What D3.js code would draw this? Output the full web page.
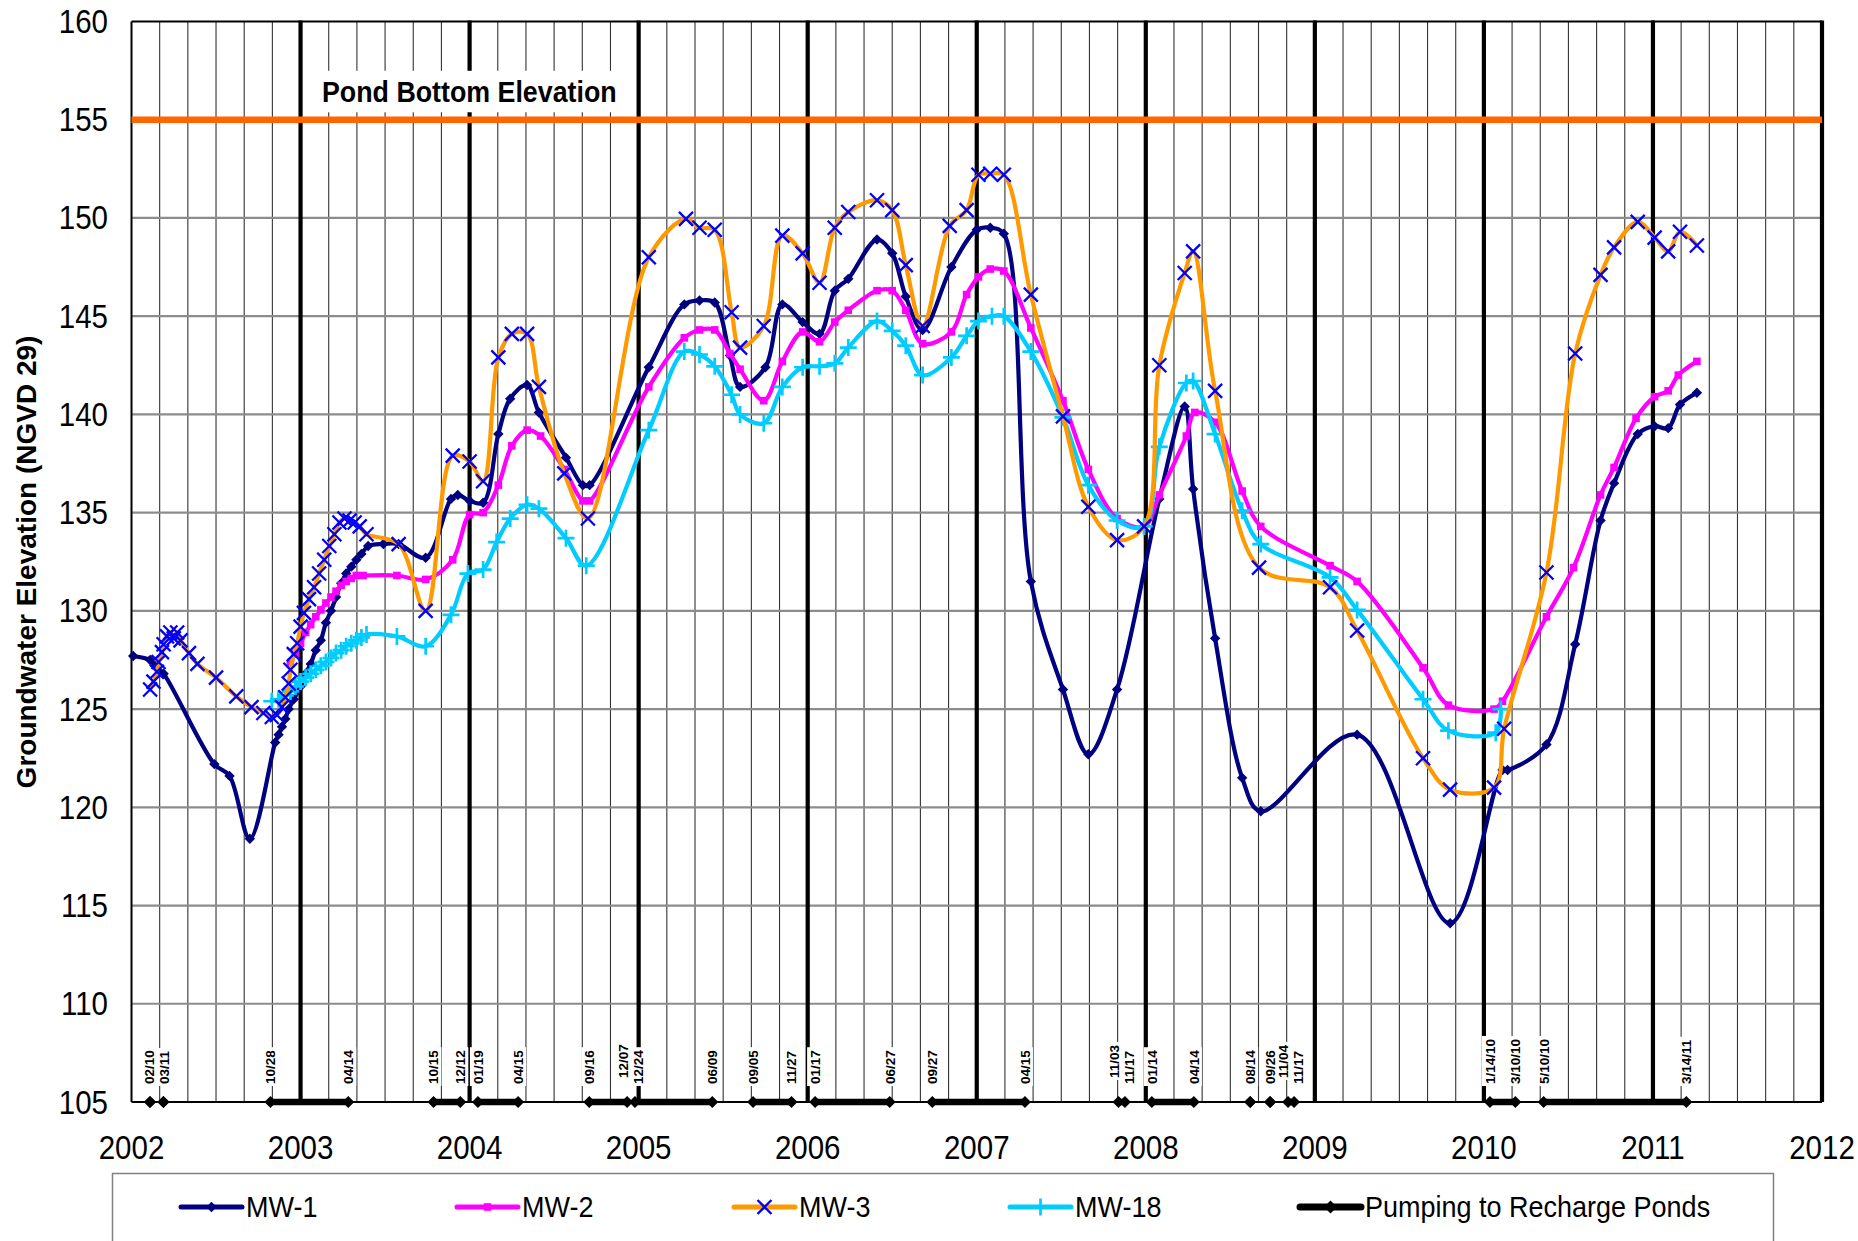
<!DOCTYPE html>
<html>
<head>
<meta charset="utf-8">
<script src="https://cdn.jsdelivr.net/npm/d3@7"></script>
<style>
  body { margin: 0; background: #fff; }
  svg { display: block; font-family: "Liberation Sans", Arial, sans-serif; }
</style>
</head>
<body>
<div id="chart"></div>
<script>
// ---- data (decimal year, elevation ft NGVD 29) ----
const yearTicks = [2002, 2003, 2004, 2005, 2006, 2007, 2008, 2009, 2010, 2011, 2012];
const elevTicks = [105, 110, 115, 120, 125, 130, 135, 140, 145, 150, 155, 160];
const pondBottom = 155;

const mw1 = [[2002.01,127.7],[2002.11,127.5],[2002.14,127.2],[2002.19,126.8],[2002.49,122.2],[2002.58,121.6],[2002.70,118.4],
  [2002.85,123.3],[2002.87,123.7],[2002.89,124.1],[2002.91,124.5],[2002.93,125.0],[2002.96,125.5],[2003.00,126.15],[2003.03,126.8],
  [2003.06,127.3],[2003.09,128.0],[2003.12,128.5],[2003.15,129.4],[2003.18,130.0],[2003.21,130.7],[2003.24,131.4],[2003.27,131.9],
  [2003.30,132.25],[2003.33,132.6],[2003.36,132.9],[2003.40,133.3],[2003.49,133.4],[2003.58,133.4],[2003.74,132.7],[2003.89,135.7],
  [2003.93,135.9],[2004.00,135.6],[2004.08,135.5],[2004.17,139.0],[2004.24,140.8],[2004.34,141.5],[2004.41,140.1],[2004.57,137.8],
  [2004.67,136.4],[2004.71,136.4],[2005.06,142.4],[2005.27,145.6],[2005.36,145.8],[2005.45,145.7],[2005.54,143.0],[2005.60,141.4],
  [2005.75,142.4],[2005.85,145.6],[2005.97,144.7],[2006.07,144.1],[2006.16,146.3],[2006.24,146.9],[2006.41,148.9],[2006.50,148.2],
  [2006.58,146.0],[2006.68,144.3],[2006.85,147.5],[2007.00,149.4],[2007.08,149.5],[2007.16,149.2],[2007.32,131.5],[2007.51,126.0],
  [2007.66,122.7],[2007.83,126.0],[2008.08,135.7],[2008.23,140.4],[2008.28,136.2],[2008.41,128.6],[2008.57,121.5],[2008.68,119.8],
  [2009.25,123.7],[2009.80,114.1],[2010.11,121.9],[2010.14,121.9],[2010.37,123.2],[2010.54,128.3],[2010.69,134.6],[2010.77,136.5],
  [2010.91,139.0],[2011.01,139.4],[2011.09,139.3],[2011.16,140.5],[2011.26,141.1]];

const mw2 = [[2002.94,127.3],[2002.97,127.85],[2003.00,128.35],[2003.03,128.9],[2003.06,129.3],[2003.09,129.7],[2003.12,130.05],
  [2003.15,130.4],[2003.18,130.7],[2003.21,131.0],[2003.24,131.3],[2003.27,131.5],[2003.30,131.65],[2003.33,131.8],[2003.37,131.8],
  [2003.57,131.8],[2003.74,131.6],[2003.90,132.6],[2004.00,134.9],[2004.08,135.0],[2004.17,136.4],[2004.25,138.4],[2004.34,139.2],
  [2004.42,138.9],[2004.56,137.2],[2004.67,135.6],[2004.71,135.6],[2005.06,141.4],[2005.27,143.9],[2005.36,144.3],[2005.45,144.3],
  [2005.54,143.1],[2005.60,142.3],[2005.74,140.7],[2005.85,142.7],[2005.97,144.2],[2006.07,143.7],[2006.16,144.7],[2006.24,145.3],
  [2006.41,146.3],[2006.50,146.3],[2006.58,145.3],[2006.68,143.6],[2006.85,144.2],[2006.94,146.1],[2007.01,147.0],[2007.08,147.4],
  [2007.16,147.3],[2007.32,144.4],[2007.51,140.7],[2007.66,137.2],[2007.83,134.7],[2007.99,134.3],[2008.08,135.9],[2008.24,138.9],
  [2008.29,140.1],[2008.41,139.6],[2008.57,136.1],[2008.68,134.3],[2009.09,132.3],[2009.25,131.5],[2009.64,127.1],[2009.79,125.2],
  [2010.06,125.0],[2010.11,125.4],[2010.37,129.7],[2010.53,132.2],[2010.69,135.9],[2010.77,137.3],[2010.90,139.8],[2011.01,140.9],
  [2011.09,141.2],[2011.15,142.0],[2011.26,142.7]];

const mw3 = [[2002.11,126.0],[2002.13,126.4],[2002.15,126.9],[2002.16,127.4],[2002.18,127.9],[2002.19,128.3],[2002.21,128.7],
  [2002.23,128.9],[2002.25,128.6],[2002.27,128.9],[2002.29,128.5],[2002.34,127.85],[2002.39,127.3],[2002.50,126.6],[2002.62,125.65],
  [2002.71,125.1],[2002.78,124.8],[2002.83,124.6],[2002.86,124.7],[2002.89,125.1],[2002.91,125.6],[2002.93,126.3],[2002.94,127.0],
  [2002.96,127.8],[2002.98,128.35],[2003.00,129.2],[2003.02,129.9],[2003.05,130.6],[2003.08,131.2],[2003.11,131.9],[2003.14,132.6],
  [2003.17,133.3],[2003.20,133.9],[2003.23,134.5],[2003.26,134.7],[2003.29,134.6],[2003.32,134.5],[2003.35,134.3],[2003.39,133.9],
  [2003.58,133.4],[2003.74,130.0],[2003.90,137.9],[2004.00,137.6],[2004.08,136.6],[2004.17,142.9],[2004.25,144.1],[2004.34,144.1],
  [2004.41,141.4],[2004.56,137.0],[2004.70,134.7],[2005.06,148.0],[2005.28,149.95],[2005.36,149.5],[2005.45,149.4],[2005.55,145.2],
  [2005.60,143.4],[2005.74,144.5],[2005.85,149.1],[2005.97,148.2],[2006.07,146.7],[2006.16,149.5],[2006.24,150.3],[2006.41,150.9],
  [2006.50,150.4],[2006.58,147.6],[2006.68,144.5],[2006.84,149.6],[2006.94,150.4],[2007.01,152.2],[2007.08,152.25],[2007.16,152.2],
  [2007.32,146.1],[2007.51,139.9],[2007.66,135.3],[2007.83,133.6],[2007.99,134.3],[2008.08,142.5],[2008.23,147.2],[2008.28,148.3],
  [2008.41,141.2],[2008.67,132.2],[2009.09,131.2],[2009.25,129.0],[2009.64,122.5],[2009.80,120.9],[2010.06,121.0],[2010.12,124.0],
  [2010.37,131.95],[2010.54,143.1],[2010.69,147.1],[2010.77,148.5],[2010.91,149.8],[2011.01,149.0],[2011.09,148.3],[2011.16,149.3],
  [2011.26,148.6]];

const mw18 = [[2002.83,125.4],[2002.87,125.5],[2002.91,125.7],[2002.94,125.9],[2002.97,126.15],[2003.00,126.4],[2003.03,126.6],
  [2003.06,126.8],[2003.09,127.0],[2003.12,127.2],[2003.15,127.4],[2003.18,127.6],[2003.21,127.85],[2003.24,128.0],[2003.27,128.2],
  [2003.30,128.35],[2003.33,128.5],[2003.36,128.65],[2003.39,128.8],[2003.57,128.7],[2003.74,128.2],[2003.89,129.8],[2003.99,131.9],
  [2004.08,132.1],[2004.16,133.5],[2004.24,134.7],[2004.34,135.4],[2004.41,135.2],[2004.57,133.7],[2004.69,132.3],[2005.06,139.2],
  [2005.27,143.2],[2005.36,143.05],[2005.45,142.45],[2005.55,141.0],[2005.60,140.0],[2005.74,139.55],[2005.85,141.4],[2005.97,142.4],
  [2006.07,142.45],[2006.16,142.6],[2006.24,143.4],[2006.41,144.75],[2006.50,144.25],[2006.58,143.5],[2006.68,142.0],[2006.85,142.9],
  [2006.94,144.0],[2007.01,144.75],[2007.09,145.0],[2007.16,145.0],[2007.32,143.2],[2007.51,139.85],[2007.66,136.4],[2007.83,134.6],
  [2007.99,134.3],[2008.08,138.35],[2008.24,141.6],[2008.28,141.7],[2008.41,139.0],[2008.57,135.1],[2008.68,133.4],[2009.09,131.7],
  [2009.25,130.05],[2009.64,125.5],[2009.79,123.9],[2010.07,123.8],[2010.10,125.0]];

// pumping to recharge ponds: [start, end]
const pumpPeriods = [["2002-02-10","2002-02-10"],["2002-03-11","2002-03-11"],["2002-10-28","2003-04-14"],["2003-10-15","2003-12-12"],
  ["2004-01-19","2004-04-15"],["2004-09-16","2004-12-07"],["2004-12-24","2005-06-09"],["2005-09-05","2005-11-27"],
  ["2006-01-17","2006-06-27"],["2006-09-27","2007-04-15"],["2007-11-03","2007-11-17"],["2008-01-14","2008-04-14"],
  ["2008-08-14","2008-08-14"],["2008-09-26","2008-09-26"],["2008-11-04","2008-11-17"],["2010-01-14","2010-03-10"],
  ["2010-05-10","2011-03-14"]];
const pumpLabelDates = ["2002-02-10","2002-03-11","2002-10-28","2003-04-14","2003-10-15","2003-12-12","2004-01-19","2004-04-15",
  "2004-09-16","2004-12-07","2004-12-24","2005-06-09","2005-09-05","2005-11-27","2006-01-17","2006-06-27","2006-09-27","2007-04-15",
  "2007-11-03","2007-11-17","2008-01-14","2008-04-14","2008-08-14","2008-09-26","2008-11-04","2008-11-17","2010-01-14","2010-03-10",
  "2010-05-10","2011-03-14"];
const pumpLabelTexts = ["02/10","03/11","10/28","04/14","10/15","12/12","01/19","04/15","09/16","12/07","12/24","06/09","09/05",
  "11/27","01/17","06/27","09/27","04/15","11/03","11/17","01/14","04/14","08/14","09/26","11/04","11/17","1/14/10","3/10/10",
  "5/10/10","3/14/11"];

// ---- chart ----
const W = 1858, H = 1241;
const plot = {left: 131.5, right: 1822, top: 21.5, bottom: 1102};

const x = d3.scaleLinear().domain([2002, 2012]).range([plot.left, plot.right]);
const y = d3.scaleLinear().domain([105, 160]).range([plot.bottom, plot.top]);

function decYear(s) {
  const d = new Date(s + "T00:00:00Z");
  const yr = d.getUTCFullYear();
  const a = Date.UTC(yr, 0, 1), b = Date.UTC(yr + 1, 0, 1);
  return yr + (d - a) / (b - a);
}

const svg = d3.select("#chart").append("svg")
  .attr("width", W).attr("height", H)
  .attr("viewBox", [0, 0, W, H]);

// text in the original is a little taller than it is wide
function tallText(g, px, py, str, size, sy, anchor) {
  return g.append("text")
    .attr("transform", `translate(${px},${py}) scale(1,${sy})`)
    .attr("text-anchor", anchor || "start")
    .attr("font-size", size).attr("fill", "#000")
    .text(str);
}

// minor vertical grid every two months
const minor = d3.range(1, 60).filter(i => i % 6 !== 0).map(i => 2002 + i / 6);
svg.append("g").selectAll("line").data(minor).join("line")
  .attr("x1", d => x(d)).attr("x2", d => x(d))
  .attr("y1", plot.top).attr("y2", plot.bottom)
  .attr("stroke", "#333").attr("stroke-width", 1.1);

// horizontal grid
svg.append("g").selectAll("line").data(elevTicks.filter(v => v > 105 && v < 160)).join("line")
  .attr("x1", plot.left).attr("x2", plot.right)
  .attr("y1", d => y(d)).attr("y2", d => y(d))
  .attr("stroke", "#8c8c8c").attr("stroke-width", 2.2);

// plot frame
svg.append("line").attr("x1", plot.left).attr("x2", plot.right).attr("y1", y(160)).attr("y2", y(160))
  .attr("stroke", "#000").attr("stroke-width", 2);
svg.append("line").attr("x1", plot.left).attr("x2", plot.left).attr("y1", plot.top).attr("y2", plot.bottom)
  .attr("stroke", "#000").attr("stroke-width", 2);

// thick year lines
svg.append("g").selectAll("line").data(yearTicks.slice(1)).join("line")
  .attr("x1", d => x(d)).attr("x2", d => x(d))
  .attr("y1", plot.top - 1).attr("y2", plot.bottom)
  .attr("stroke", "#000").attr("stroke-width", 4.2);

// y tick labels
const yLab = svg.append("g");
elevTicks.forEach(v => tallText(yLab, 108, y(v) + 11.5, v, 29.5, 1.13, "end"));

// x tick labels
const xLab = svg.append("g");
yearTicks.forEach(v => tallText(xLab, x(v), 1159, v, 29.5, 1.13, "middle"));

// y axis title
svg.append("text")
  .attr("transform", `translate(36,562) rotate(-90)`)
  .attr("text-anchor", "middle").attr("font-size", 28).attr("font-weight", "bold")
  .text("Groundwater Elevation (NGVD 29)");

// pond bottom line + label
svg.append("line")
  .attr("x1", plot.left).attr("x2", plot.right)
  .attr("y1", y(pondBottom)).attr("y2", y(pondBottom))
  .attr("stroke", "#ff6600").attr("stroke-width", 6.5);

const pondLbl = svg.append("g");
const pondText = tallText(pondLbl, 322, 102, "Pond Bottom Elevation", 26.8, 1.1).attr("font-weight", "bold");
const pb = pondText.node().getBBox();
pondLbl.insert("rect", "text")
  .attr("x", 322 + pb.x - 7).attr("y", 102 + pb.y * 1.1 - 4)
  .attr("width", pb.width + 14).attr("height", pb.height * 1.1 + 8)
  .attr("fill", "#fff");

// ---- markers ----
function diamondPath(r) { return `M0,${-r}L${r},0L0,${r}L${-r},0Z`; }
const markerStyle = {
  diamond: s => s.attr("d", diamondPath(5.2)).attr("fill", "#000080"),
  square: s => s.attr("d", "M-3.8,-3.8H3.8V3.8H-3.8Z").attr("fill", "#ff00ff"),
  x: s => s.attr("d", "M-7,-7L7,7M-7,7L7,-7").attr("stroke", "#0000ff").attr("stroke-width", 2.3).attr("fill", "none"),
  plus: s => s.attr("d", "M-8.5,0H8.5M0,-8.5V8.5").attr("stroke", "#00ccff").attr("stroke-width", 2.7).attr("fill", "none")
};

const line = d3.line().x(d => x(d[0])).y(d => y(d[1])).curve(d3.curveCatmullRom.alpha(0.5));

const series = [
  {name: "MW-1", data: mw1, color: "#000080", marker: "diamond"},
  {name: "MW-2", data: mw2, color: "#ff00ff", marker: "square"},
  {name: "MW-18", data: mw18, color: "#00ccff", marker: "plus"},
  {name: "MW-3", data: mw3, color: "#ff9900", marker: "x"}
];

series.forEach(s => {
  const g = svg.append("g");
  g.append("path").datum(s.data).attr("d", line)
    .attr("fill", "none").attr("stroke", s.color).attr("stroke-width", 4.2)
    .attr("stroke-linejoin", "round").attr("stroke-linecap", "round");
  g.append("g").selectAll("path").data(s.data).join("path")
    .attr("transform", d => `translate(${x(d[0])},${y(d[1])})`)
    .call(markerStyle[s.marker]);
});

// bottom axis line
svg.append("line").attr("x1", plot.left).attr("x2", plot.right).attr("y1", plot.bottom).attr("y2", plot.bottom)
  .attr("stroke", "#000").attr("stroke-width", 2.2);

// pumping periods
const pumpG = svg.append("g");
pumpG.selectAll("line").data(pumpPeriods).join("line")
  .attr("x1", d => x(decYear(d[0]))).attr("x2", d => x(decYear(d[1])))
  .attr("y1", y(105)).attr("y2", y(105))
  .attr("stroke", "#000").attr("stroke-width", 6.5);
pumpG.selectAll("path").data(pumpPeriods.flat()).join("path")
  .attr("transform", d => `translate(${x(decYear(d))},${y(105)})`)
  .attr("d", diamondPath(6)).attr("fill", "#000");

// pumping date labels (nudged apart when they collide)
const lbls = pumpLabelDates.map((d, i) => ({px: x(decYear(d)), text: pumpLabelTexts[i], lift: 0}));
const gap = 15;
for (let i = 1; i < lbls.length; i++) {
  const dx = lbls[i].px - lbls[i - 1].px;
  if (dx < gap) {
    const sh = (gap - dx) / 2;
    lbls[i - 1].px -= sh; lbls[i].px += sh;
    if (dx < 10) lbls[i - 1].lift = 6;
  }
}
const lblG = svg.append("g");
lbls.slice().reverse().forEach(l => {
  const g = lblG.append("g")
    .attr("transform", `translate(${l.px},${1084 - l.lift}) rotate(-90)`);
  const t = g.append("text").attr("x", 0).attr("y", 0).attr("dy", "0.36em")
    .attr("font-size", 13.5).attr("font-weight", "bold").text(l.text);
  const w = t.node().getComputedTextLength();
  g.insert("rect", "text").attr("x", -2).attr("y", -8).attr("width", w + 5).attr("height", 16).attr("fill", "#fff");
});

// ---- legend ----
const leg = svg.append("g");
leg.append("rect").attr("x", 112.5).attr("y", 1173.5).attr("width", 1661).attr("height", 90)
  .attr("fill", "#fff").attr("stroke", "#808080").attr("stroke-width", 1.5);
const legendItems = [
  {name: "MW-1", color: "#000080", marker: "diamond", x0: 181},
  {name: "MW-2", color: "#ff00ff", marker: "square", x0: 457},
  {name: "MW-3", color: "#ff9900", marker: "x", x0: 734},
  {name: "MW-18", color: "#00ccff", marker: "plus", x0: 1010},
  {name: "Pumping to Recharge Ponds", color: "#000", marker: "pump", x0: 1300}
];
const ly = 1207;
legendItems.forEach(it => {
  const g = leg.append("g");
  g.append("line").attr("x1", it.x0).attr("x2", it.x0 + 61).attr("y1", ly).attr("y2", ly)
    .attr("stroke", it.color).attr("stroke-width", it.marker === "pump" ? 7 : 5).attr("stroke-linecap", "round");
  const m = g.append("path").attr("transform", `translate(${it.x0 + 30.5},${ly})`);
  if (it.marker === "pump") m.attr("d", diamondPath(6.5)).attr("fill", "#000");
  else m.call(markerStyle[it.marker]);
  tallText(g, it.x0 + 65, ly + 10, it.name, 27, 1.1);
});
</script>
</body>
</html>
